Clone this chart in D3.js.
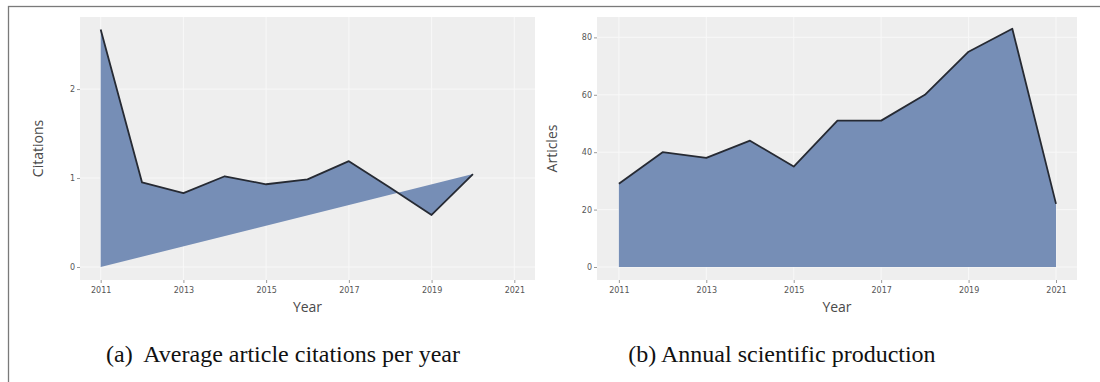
<!DOCTYPE html>
<html>
<head>
<meta charset="utf-8">
<script src="https://cdn.jsdelivr.net/npm/d3@7"></script>
<style>
  html, body { margin: 0; padding: 0; background: #ffffff; }
  svg { display: block; }
</style>
</head>
<body>
<svg id="chart" width="1100" height="382"></svg>
<script>
// Average article citations per year (2011–2020)
const citationYears = [2011, 2012, 2013, 2014, 2015, 2016, 2017, 2018, 2019, 2020];
const citationValues = [2.67, 0.95, 0.83, 1.02, 0.93, 0.985, 1.19, 0.89, 0.585, 1.045];

// Annual scientific production (2011–2021)
const productionYears = [2011, 2012, 2013, 2014, 2015, 2016, 2017, 2018, 2019, 2020, 2021];
const productionValues = [29, 40, 38, 44, 35, 51, 51, 60, 75, 83, 22];

// Axis ticks
const yearTicks = [2011, 2013, 2015, 2017, 2019, 2021];
const citationTicks = [0, 1, 2];
const productionTicks = [0, 20, 40, 60, 80];

// Captions and titles
const captionA = "(a)  Average article citations per year";
const captionB = "(b) Annual scientific production";
const xTitle = "Year";
const yTitleA = "Citations";
const yTitleB = "Articles";

const svg = d3.select("#chart");

// outer frame (runs off the right and bottom edges)
svg.append("rect")
  .attr("x", 8.5).attr("y", 6.5)
  .attr("width", 1200).attr("height", 500)
  .attr("fill", "none")
  .attr("stroke", "#7a7a7a")
  .attr("stroke-width", 1.3);

const FILL = "#768eb6";
const LINE = "#262a33";
const PANEL = "#eeeeee";

function drawPanel(opts) {
  const { left, right, top, bottom, xDomain, yDomain, yTicks, years, values,
          closeToFirst, yTitle, yTitleX } = opts;
  const x = d3.scaleLinear().domain(xDomain).range([left, right]);
  const y = d3.scaleLinear().domain(yDomain).range([bottom, top]);
  const g = svg.append("g");

  g.append("rect")
    .attr("x", left).attr("y", top)
    .attr("width", right - left).attr("height", bottom - top)
    .attr("fill", PANEL);

  // grid
  g.selectAll(".vg").data(yearTicks).join("line")
    .attr("x1", d => x(d)).attr("x2", d => x(d))
    .attr("y1", top).attr("y2", bottom)
    .attr("stroke", "#f8f8f8").attr("stroke-width", 1);
  g.selectAll(".hg").data(yTicks).join("line")
    .attr("x1", left).attr("x2", right)
    .attr("y1", d => y(d)).attr("y2", d => y(d))
    .attr("stroke", "#f8f8f8").attr("stroke-width", 1);

  const pts = years.map((yr, i) => ({ year: yr, value: values[i] }));

  if (closeToFirst) {
    // polygon of the series closed straight back to the first year's baseline
    const poly = pts.concat([{ year: years[0], value: 0 }]);
    const shape = d3.line().x(d => x(d.year)).y(d => y(d.value));
    g.append("path")
      .attr("d", shape(poly) + "Z")
      .attr("fill", FILL);
  } else {
    const area = d3.area()
      .x(d => x(d.year)).y0(y(0)).y1(d => y(d.value));
    g.append("path").attr("d", area(pts)).attr("fill", FILL);
  }

  const line = d3.line().x(d => x(d.year)).y(d => y(d.value));
  g.append("path")
    .attr("d", line(pts))
    .attr("fill", "none")
    .attr("stroke", LINE)
    .attr("stroke-width", 1.8)
    .attr("stroke-linejoin", "round");

  // x axis
  const xAxis = d3.axisBottom(x).tickValues(yearTicks).tickFormat(d3.format("d"))
    .tickSize(3).tickPadding(4);
  const xg = g.append("g").attr("transform", `translate(0,${bottom})`).call(xAxis);
  xg.select(".domain").remove();
  xg.selectAll("line").attr("stroke", "#9a9a9a");
  xg.selectAll("text").attr("fill", "#555").style("font-family", "'DejaVu Sans', sans-serif")
    .style("font-size", "8px");

  // y axis
  const yAxis = d3.axisLeft(y).tickValues(yTicks).tickFormat(d3.format("d"))
    .tickSize(3).tickPadding(2);
  const yg = g.append("g").attr("transform", `translate(${left},0)`).call(yAxis);
  yg.select(".domain").remove();
  yg.selectAll("line").attr("stroke", "#9a9a9a");
  yg.selectAll("text").attr("fill", "#555").style("font-family", "'DejaVu Sans', sans-serif")
    .style("font-size", "8px");

  // titles
  g.append("text")
    .attr("x", (left + right) / 2).attr("y", bottom + 32)
    .attr("text-anchor", "middle")
    .attr("fill", "#4a4a4a")
    .style("font-family", "'Open Sans', sans-serif").style("font-size", "14px")
    .text(xTitle);
  g.append("text")
    .attr("transform", `translate(${yTitleX},${(top + bottom) / 2}) rotate(-90)`)
    .attr("text-anchor", "middle")
    .attr("fill", "#4a4a4a")
    .style("font-family", "'Open Sans', sans-serif").style("font-size", "14px")
    .text(yTitle);
}

drawPanel({
  left: 80, right: 535, top: 17, bottom: 280,
  xDomain: [2010.5, 2021.5], yDomain: [-0.146, 2.81],
  yTicks: citationTicks, years: citationYears, values: citationValues,
  closeToFirst: true, yTitle: yTitleA, yTitleX: 43
});

drawPanel({
  left: 597, right: 1077, top: 17, bottom: 280,
  xDomain: [2010.5, 2021.48], yDomain: [-4.53, 87.1],
  yTicks: productionTicks, years: productionYears, values: productionValues,
  closeToFirst: false, yTitle: yTitleB, yTitleX: 557
});

// captions
svg.append("text")
  .attr("x", 283).attr("y", 362)
  .attr("text-anchor", "middle")
  .attr("fill", "#111")
  .style("font-family", "'Liberation Serif', 'Times New Roman', serif")
  .style("font-size", "24px")
  .style("white-space", "pre")
  .attr("xml:space", "preserve")
  .text(captionA);
svg.append("text")
  .attr("x", 782).attr("y", 362)
  .attr("text-anchor", "middle")
  .attr("fill", "#111")
  .style("font-family", "'Liberation Serif', 'Times New Roman', serif")
  .style("font-size", "24px")
  .text(captionB);
</script>
</body>
</html>
